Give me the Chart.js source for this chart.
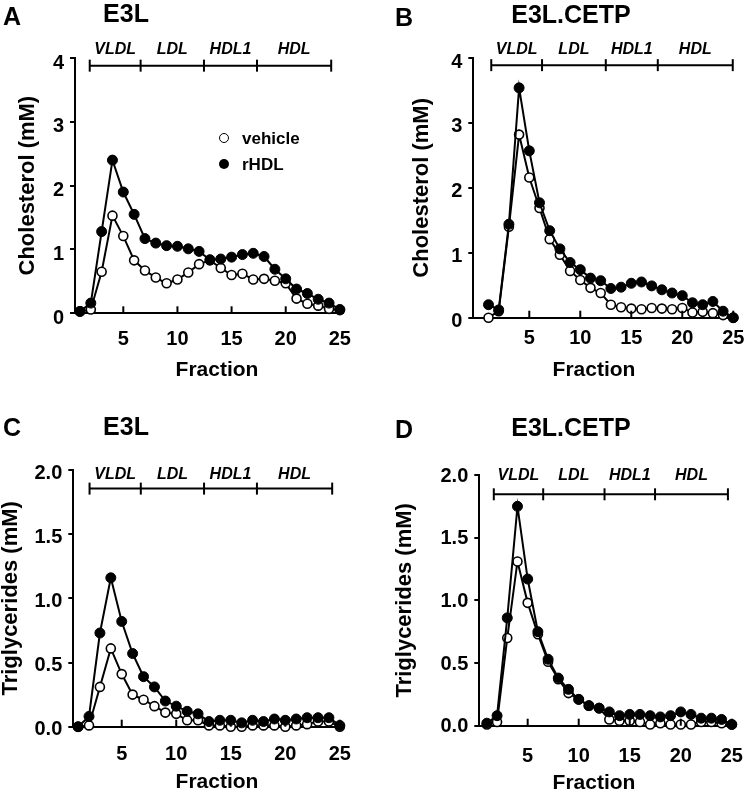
<!DOCTYPE html>
<html>
<head>
<meta charset="utf-8">
<script src="https://cdn.jsdelivr.net/npm/chart.js@4.4.1/dist/chart.umd.min.js"></script>
<style>
  body { margin: 0; background: #fff; }
  #wrap { position: relative; width: 754px; height: 792px; font-family: 'Liberation Sans', Arial, sans-serif; font-weight: bold; color: #000; }
  .box { position: absolute; width: 377px; height: 396px; }
  .t { position: absolute; transform: translate(-50%, -50%); line-height: 1; white-space: nowrap; }
  .l { position: absolute; transform: translateY(-50%); line-height: 1; white-space: nowrap; font-size: 17px; }
  .big { font-size: 25px; }
  .xt { font-size: 21px; }
  .dot { position: absolute; width: 10px; height: 10px; border-radius: 50%; transform: translate(-50%, -50%); box-sizing: border-box; }
</style>
</head>
<body>
<div id="wrap">
  <div class="box" style="left:0;top:0"><canvas id="cA" width="377" height="396"></canvas></div>
  <div class="box" style="left:377px;top:0"><canvas id="cB" width="377" height="396"></canvas></div>
  <div class="box" style="left:0;top:396px"><canvas id="cC" width="377" height="396"></canvas></div>
  <div class="box" style="left:377px;top:396px"><canvas id="cD" width="377" height="396"></canvas></div>

  <div class="t big" style="left:12px;top:16px">A</div>
  <div class="t big" style="left:126px;top:13px">E3L</div>
  <div class="t big" style="left:404px;top:17px">B</div>
  <div class="t big" style="left:571px;top:14px">E3L.CETP</div>
  <div class="t big" style="left:12px;top:427px">C</div>
  <div class="t big" style="left:126px;top:426px">E3L</div>
  <div class="t big" style="left:404px;top:429px">D</div>
  <div class="t big" style="left:571px;top:427px">E3L.CETP</div>

  <div class="t xt" style="left:217px;top:368px">Fraction</div>
  <div class="t xt" style="left:594px;top:368px">Fraction</div>
  <div class="t xt" style="left:217px;top:780px">Fraction</div>
  <div class="t xt" style="left:594px;top:781px">Fraction</div>

  <div class="dot" style="left:224px;top:138px;border:1.6px solid #000;background:#fff"></div>
  <div class="l" style="left:242px;top:138px">vehicle</div>
  <div class="dot" style="left:224px;top:164px;background:#000"></div>
  <div class="l" style="left:242px;top:164px">rHDL</div>
</div>
<script>
// fractions and ticks
const fractions = [1, 2, 3, 4, 5, 6, 7, 8, 9, 10, 11, 12, 13, 14, 15, 16, 17, 18, 19, 20, 21, 22, 23, 24, 25];
const xTicks = [5, 10, 15, 20, 25];
const cholTicks = [0, 1, 2, 3, 4];
const tgTicks = [0, 0.5, 1, 1.5, 2];
const bandNames = ['VLDL', 'LDL', 'HDL1', 'HDL'];

// cholesterol (mM)
const vehicleCholE3L = [0.03, 0.06, 0.65, 1.53, 1.21, 0.83, 0.67, 0.56, 0.47, 0.53, 0.64, 0.77, 0.83, 0.71, 0.60, 0.62, 0.53, 0.54, 0.51, 0.47, 0.23, 0.15, 0.12, 0.07, 0.05];
const rhdlCholE3L = [0.03, 0.16, 1.28, 2.40, 1.90, 1.55, 1.17, 1.10, 1.06, 1.05, 1.01, 0.97, 0.84, 0.85, 0.88, 0.92, 0.94, 0.89, 0.69, 0.54, 0.38, 0.31, 0.22, 0.16, 0.06];
const vehicleCholCETP = [0.0, 0.10, 1.40, 2.82, 2.16, 1.69, 1.21, 0.97, 0.72, 0.58, 0.46, 0.38, 0.20, 0.16, 0.14, 0.13, 0.15, 0.14, 0.13, 0.15, 0.08, 0.09, 0.07, 0.04, 0.0];
const rhdlCholCETP = [0.20, 0.12, 1.44, 3.54, 2.57, 1.77, 1.34, 1.06, 0.85, 0.74, 0.61, 0.57, 0.45, 0.47, 0.53, 0.55, 0.49, 0.43, 0.38, 0.34, 0.23, 0.20, 0.25, 0.10, 0.0];

// triglycerides (mM)
const vehicleTgE3L = [0.0, 0.01, 0.31, 0.61, 0.41, 0.25, 0.21, 0.16, 0.11, 0.10, 0.05, 0.05, 0.01, 0.01, 0.0, 0.0, 0.01, 0.01, 0.01, 0.0, 0.01, 0.02, 0.04, 0.04, 0.0];
const rhdlTgE3L = [0.0, 0.08, 0.73, 1.16, 0.82, 0.57, 0.39, 0.31, 0.20, 0.16, 0.12, 0.10, 0.04, 0.05, 0.05, 0.03, 0.05, 0.04, 0.06, 0.05, 0.06, 0.07, 0.07, 0.07, 0.01];
const vehicleTgCETP = [0.01, 0.03, 0.70, 1.31, 0.98, 0.73, 0.51, 0.37, 0.26, 0.21, 0.16, 0.14, 0.05, 0.04, 0.04, 0.03, 0.01, 0.02, 0.01, 0.01, 0.01, 0.03, 0.03, 0.02, 0.01];
const rhdlTgCETP = [0.02, 0.08, 0.86, 1.75, 1.17, 0.75, 0.53, 0.38, 0.29, 0.21, 0.16, 0.14, 0.11, 0.08, 0.09, 0.09, 0.08, 0.07, 0.08, 0.11, 0.09, 0.06, 0.06, 0.05, 0.01];

// lipoprotein band limits (fraction units)
const bandsCholE3L = [1.9, 6.6, 12.45, 17.35, 24.2];
const bandsCholCETP = [1.27, 6.25, 12.5, 17.6, 24.95];
const bandsTgE3L = [2.05, 6.75, 12.55, 17.4, 24.3];
const bandsTgCETP = [1.68, 6.52, 12.53, 17.48, 24.62];

const FONT = "'Liberation Sans', Arial, sans-serif";

function line(ctx, x1, y1, x2, y2) {
  ctx.beginPath(); ctx.moveTo(x1, y1); ctx.lineTo(x2, y2); ctx.stroke();
}

// inward x ticks + fraction bracket on top
const decor = {
  id: 'decor',
  afterDraw(chart, args, opts) {
    const { ctx, chartArea, scales: { x, y } } = chart;
    ctx.save();
    ctx.strokeStyle = '#000';
    ctx.lineWidth = 2;
    xTicks.forEach(v => {
      const px = x.getPixelForValue(v);
      line(ctx, px, chartArea.bottom, px, chartArea.bottom - 7);
    });
    const b = opts.bands;
    const by = y.getPixelForValue(opts.level);
    line(ctx, x.getPixelForValue(b[0]), by, x.getPixelForValue(b[b.length - 1]), by);
    b.forEach(v => {
      const px = x.getPixelForValue(v);
      line(ctx, px, by - 6, px, by + 6);
    });
    ctx.fillStyle = '#000';
    ctx.font = 'italic bold 16px ' + FONT;
    ctx.textAlign = 'center';
    ctx.textBaseline = 'middle';
    bandNames.forEach((n, i) => {
      ctx.fillText(n, x.getPixelForValue((b[i] + b[i + 1]) / 2), by - opts.gap);
    });
    ctx.restore();
  }
};

function pts(vals) {
  return fractions.map((f, i) => ({ x: f, y: vals[i] }));
}

function makeChart(p) {
  const yTicks = p.yTicks;
  new Chart(document.getElementById(p.id), {
    type: 'line',
    data: {
      datasets: [
        {
          label: 'rHDL', data: pts(p.rhdl),
          borderColor: '#000', borderWidth: 2, tension: 0,
          pointRadius: 5, pointBackgroundColor: '#000', pointBorderColor: '#000', pointBorderWidth: 1,
          clip: false
        },
        {
          label: 'vehicle', data: pts(p.vehicle),
          borderColor: '#000', borderWidth: 2, tension: 0,
          pointRadius: 4.5, pointBackgroundColor: '#fff', pointBorderColor: '#000', pointBorderWidth: 1.6,
          clip: false
        }
      ]
    },
    options: {
      responsive: false,
      animation: false,
      devicePixelRatio: 1,
      layout: { padding: { top: p.top, right: p.right, left: 0, bottom: 0 } },
      plugins: {
        legend: { display: false },
        tooltip: { enabled: false },
        decor: { bands: p.bands, level: p.level, gap: p.gap }
      },
      scales: {
        x: {
          type: 'linear',
          min: p.xMin, max: p.xMax,
          afterBuildTicks: a => { a.ticks = xTicks.map(v => ({ value: v })); },
          afterFit: s => { s.height = p.xH; },
          grid: { display: false },
          border: { display: true, color: '#000', width: 2 },
          ticks: { color: '#000', padding: p.xPad, maxRotation: 0, font: { family: FONT, size: 20, weight: 'bold' } }
        },
        y: {
          min: yTicks[0], max: yTicks[yTicks.length - 1],
          afterBuildTicks: a => { a.ticks = yTicks.map(v => ({ value: v })); },
          afterFit: s => { s.width = p.yW; },
          grid: { drawOnChartArea: false, drawTicks: true, tickLength: 5, color: '#000', lineWidth: 2 },
          border: { display: true, color: '#000', width: 2 },
          ticks: {
            color: '#000', padding: 6, labelOffset: p.yOff,
            font: { family: FONT, size: 20, weight: 'bold' },
            callback: v => v.toFixed(p.dec)
          },
          title: {
            display: true, text: p.yTitle, color: '#000',
            padding: { top: p.yTitlePad, bottom: 0 },
            font: { family: FONT, size: 22, weight: 'bold', lineHeight: 1 }
          }
        }
      }
    },
    plugins: [decor]
  });
}

const panels = [
  { id: 'cA', vehicle: vehicleCholE3L, rhdl: rhdlCholE3L, yTicks: cholTicks, dec: 0, yTitle: 'Cholesterol (mM)',
    bands: bandsCholE3L, level: 3.88, gap: 16, xMin: 0.54, xMax: 25.29,
    top: 58, right: 34, yW: 75, xH: 82.7, xPad: 6, yTitlePad: 17, yOff: 5 },
  { id: 'cB', vehicle: vehicleCholCETP, rhdl: rhdlCholCETP, yTicks: cholTicks, dec: 0, yTitle: 'Cholesterol (mM)',
    bands: bandsCholCETP, level: 3.89, gap: 16, xMin: -0.49, xMax: 25.17,
    top: 58, right: 19, yW: 96.3, xH: 78.3, xPad: 1, yTitlePad: 34, yOff: 4 },
  { id: 'cC', vehicle: vehicleTgE3L, rhdl: rhdlTgE3L, yTicks: tgTicks, dec: 1, yTitle: 'Triglycerides (mM)',
    bands: bandsTgE3L, level: 1.855, gap: 14, xMin: 0.56, xMax: 25.2,
    top: 74, right: 35, yW: 73.3, xH: 65.3, xPad: 8, yTitlePad: 0, yOff: 3 },
  { id: 'cD', vehicle: vehicleTgCETP, rhdl: rhdlTgCETP, yTicks: tgTicks, dec: 1, yTitle: 'Triglycerides (mM)',
    bands: bandsTgCETP, level: 1.846, gap: 19, xMin: 0.26, xMax: 25.16,
    top: 79, right: 12, yW: 102.3, xH: 66.3, xPad: 11, yTitlePad: 17, yOff: 1 }
];

panels.forEach(makeChart);
</script>
</body>
</html>
